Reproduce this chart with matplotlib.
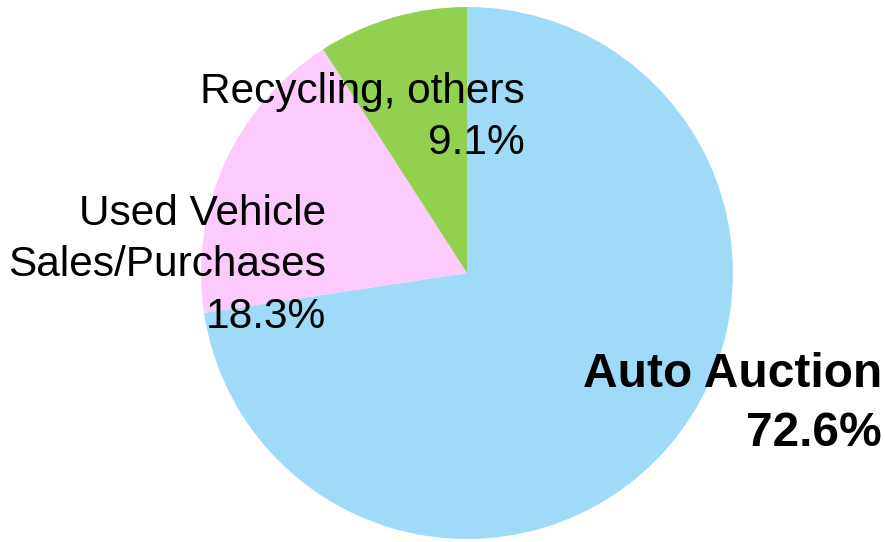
import matplotlib.pyplot as plt

# segment data (clockwise from top)
labels = ['Auto Auction', 'Used Vehicle\nSales/Purchases', 'Recycling, others']
shares = [72.6, 18.3, 9.1]
colors = ['#9fdbf9', '#fdcafd', '#92d050']

W, H = 885, 542
fig = plt.figure(figsize=(W / 100, H / 100), dpi=100)
ax = fig.add_axes([0, 0, 1, 1])

ax.pie(shares, colors=colors, startangle=90, counterclock=False,
       center=(467, H - 273), radius=266, frame=True,
       wedgeprops=dict(linewidth=0))
ax.set_xlim(0, W)
ax.set_ylim(0, H)
ax.set_aspect('equal')
ax.axis('off')

fonts = ['Liberation Sans', 'DejaVu Sans']

# label text, right-aligned; (x right edge, baselines in px from top)
label_pos = [(882, [387, 446]), (326, [225, 276, 328]), (525, [103, 154])]
for i, (lab, val) in enumerate(zip(labels, shares)):
    lines = lab.split('\n') + ['%.1f%%' % val]
    x, baselines = label_pos[i]
    for line, yb in zip(lines, baselines):
        if i == 0:
            ax.text(x, H - yb, line, ha='right', va='baseline', fontsize=34.5,
                    fontweight='bold', family=fonts)
        else:
            ax.text(x, H - yb, line, ha='right', va='baseline', fontsize=30.5,
                    family=fonts)

plt.savefig('out.png', dpi=100)
